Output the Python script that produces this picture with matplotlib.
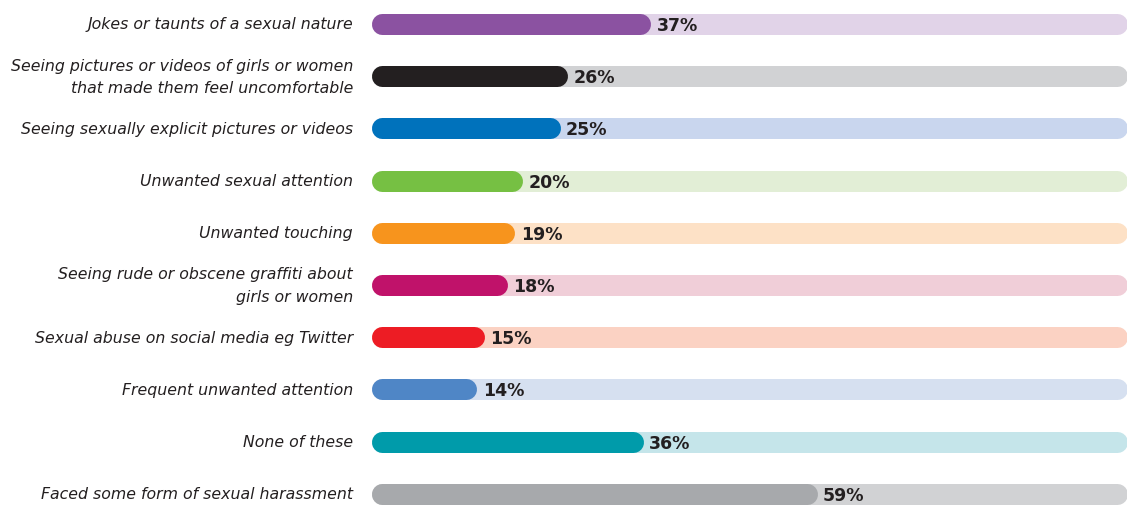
import matplotlib
matplotlib.use("Agg")
import matplotlib.pyplot as plt

labels = [
    "Jokes or taunts of a sexual nature",
    "Seeing pictures or videos of girls or women\nthat made them feel uncomfortable",
    "Seeing sexually explicit pictures or videos",
    "Unwanted sexual attention",
    "Unwanted touching",
    "Seeing rude or obscene graffiti about\ngirls or women",
    "Sexual abuse on social media eg Twitter",
    "Frequent unwanted attention",
    "None of these",
    "Faced some form of sexual harassment",
]
values = [37, 26, 25, 20, 19, 18, 15, 14, 36, 59]
bar_colors = ["#8b52a1", "#231f20", "#0072bc", "#76c043", "#f7941d",
              "#c0126a", "#ed1c24", "#4f86c6", "#009baa", "#a7a9ac"]
track_colors = ["#e1d3e8", "#d1d2d4", "#c9d6ee", "#e2eed6", "#fde1c6",
                "#f0ced8", "#fbd2c3", "#d6e0f0", "#c5e5ea", "#d1d2d4"]

W, H = 1132, 506
fig = plt.figure(figsize=(W / 100, H / 100), dpi=100)
x0, x1 = 371, 1127
ax = fig.add_axes([x0 / W, 0, (x1 - x0) / W, 1])
ax.set_xlim(0, 100)
step = 52.2
ax.set_ylim((H - 25) / step, -25 / step)
ax.axis("off")

bar_px = 21
lw = bar_px * 72 / 100
r = (bar_px / 2) / ((x1 - x0) / 100)  # cap radius in data units

for i, (lab, v, c, tc) in enumerate(zip(labels, values, bar_colors, track_colors)):
    ax.plot([r, 100 - r], [i, i], color=tc, lw=lw, solid_capstyle="round", zorder=1)
    ax.plot([r, v - r], [i, i], color=c, lw=lw, solid_capstyle="round", zorder=2)
    ax.text(v + 0.8, i + 0.02, f"{v}%", va="center", ha="left", fontsize=12.5,
            fontweight="bold", color="#231f20", zorder=3)
    ax.text(-18 / (x1 - x0), i, lab, transform=ax.get_yaxis_transform(),
            ha="right", va="center", fontsize=11.3, family="DejaVu Sans",
            style="oblique", color="#231f20", linespacing=1.6)

fig.savefig("out.png", dpi=100)
